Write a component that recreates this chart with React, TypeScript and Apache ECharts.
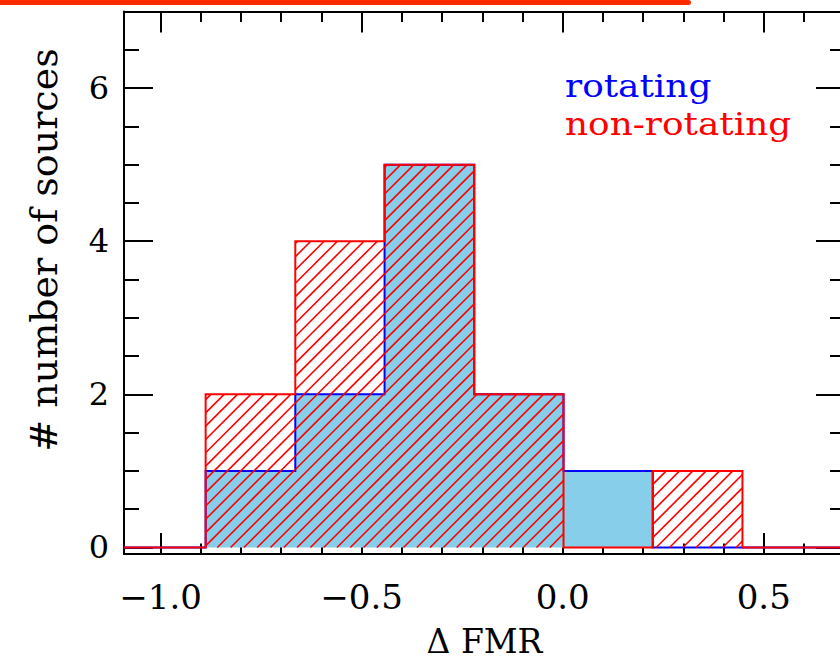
import React, { useEffect, useRef } from "react";
import * as echarts from "echarts";

// ---- data ----
const binEdges = [-0.888, -0.665, -0.443, -0.22, 0.002, 0.224, 0.447];
const rotatingCounts = [1, 2, 5, 2, 1, 0];
const nonRotatingCounts = [2, 4, 5, 2, 0, 1];

const xRange = [-1.091, 0.702];
const yRange = [-0.085, 7];
const xMajorTicks = [-1.0, -0.5, 0.0, 0.5];
const xMinorTicks = [-1.0, -0.9, -0.8, -0.7, -0.6, -0.5, -0.4, -0.3, -0.2, -0.1, 0.0, 0.1, 0.2, 0.3, 0.4, 0.5, 0.6, 0.7];
const yMajorTicks = [0, 2, 4, 6];
const yMinorTicks = [0, 0.5, 1, 1.5, 2, 2.5, 3, 3.5, 4, 4.5, 5, 5.5, 6, 6.5, 7];

const legendLabels = ["rotating", "non-rotating"];
const xTitle = "Δ FMR";
const yTitle = "# number of sources";

const FONT = "DejaVu Serif";
const BLUE = "#0000ff";
const RED = "#ff0000";
const SKY = "#87ceeb";

const fmt = (v: number) => {
  const s = Math.abs(v).toFixed(1);
  return v < -1e-9 ? "\u2212" + s : s;
};

export default function App() {
  const ref = useRef<HTMLDivElement>(null);
  useEffect(() => {
    if (!ref.current) return;
    const chart = echarts.init(ref.current, null, { renderer: "svg" });

    const tickStyle = { color: "#000", width: 2 };
    const lineStyle = { color: "#000", width: 2 };

    const mkX = (position: string, values: number[], len: number, showLine: boolean, labels: boolean) => ({
      type: "value",
      position,
      min: xRange[0],
      max: xRange[1],
      axisLine: { show: showLine, onZero: false, lineStyle },
      axisTick: { show: true, inside: true, length: len, lineStyle: tickStyle, customValues: values },
      axisLabel: labels
        ? { show: true, customValues: values, formatter: fmt, fontFamily: FONT, fontSize: 34, color: "#000", margin: 26 }
        : { show: false },
      splitLine: { show: false },
      name: labels ? xTitle : "",
      nameLocation: "middle",
      nameGap: 71,
      nameTextStyle: { fontFamily: FONT, fontSize: 33, lineHeight: 33, color: "#000" },
    });
    const mkY = (position: string, values: number[], len: number, showLine: boolean, labels: boolean) => ({
      type: "value",
      position,
      min: yRange[0],
      max: yRange[1],
      axisLine: { show: showLine, onZero: false, lineStyle },
      axisTick: { show: true, inside: true, length: len, lineStyle: tickStyle, customValues: values },
      axisLabel: labels
        ? { show: true, customValues: values, formatter: (v: number) => String(Math.round(v)), fontFamily: FONT, fontSize: 32, color: "#000", margin: 15 }
        : { show: false },
      splitLine: { show: false },
    });

    const renderItem = (params: any, api: any) => {
      const P = (x: number, y: number) => api.coord([x, y]);
      const last = binEdges.length - 1;
      const stepLine = (counts: number[]) => {
        const pts: number[][] = [P(xRange[0], 0), P(binEdges[0], 0)];
        counts.forEach((c, i) => {
          pts.push(P(binEdges[i], c));
          pts.push(P(binEdges[i + 1], c));
        });
        pts.push(P(binEdges[last], 0));
        pts.push(P(xRange[1], 0));
        return pts;
      };
      const fillPoly = (counts: number[]) => {
        const pts: number[][] = [P(binEdges[0], 0)];
        counts.forEach((c, i) => {
          pts.push(P(binEdges[i], c));
          pts.push(P(binEdges[i + 1], c));
        });
        pts.push(P(binEdges[last], 0));
        return pts;
      };
      const hatch: any[] = [];
      const s = 13.3;
      const phase = 6.7;
      nonRotatingCounts.forEach((c, i) => {
        if (c <= 0) return;
        const [x0, yT] = P(binEdges[i], c);
        const [x1, yB] = P(binEdges[i + 1], 0);
        const cMin = x0 + yT;
        const cMax = x1 + yB;
        const k0 = Math.ceil((cMin - phase) / s);
        for (let cc = phase + k0 * s; cc <= cMax; cc += s) {
          const lo = Math.max(x0, cc - yB);
          const hi = Math.min(x1, cc - yT);
          if (hi - lo > 0.5) {
            hatch.push({
              type: "line",
              shape: { x1: lo, y1: cc - lo, x2: hi, y2: cc - hi },
              style: { stroke: RED, lineWidth: 1.6 },
            });
          }
        }
      });
      return {
        type: "group",
        children: [
          { type: "polygon", shape: { points: fillPoly(rotatingCounts) }, style: { fill: SKY, stroke: null } },
          { type: "polyline", shape: { points: stepLine(rotatingCounts) }, style: { fill: null, stroke: BLUE, lineWidth: 2 } },
          ...hatch,
          { type: "polyline", shape: { points: stepLine(nonRotatingCounts) }, style: { fill: null, stroke: RED, lineWidth: 2 } },
        ],
      };
    };

    chart.setOption({
      animation: false,
      backgroundColor: "#fff",
      grid: { left: 124, right: 15, top: 11.5, bottom: 112, containLabel: false, outerBoundsMode: "none" },
      xAxis: [
        mkX("bottom", xMajorTicks, 21, true, true),
        mkX("bottom", xMinorTicks, 10.5, false, false),
        mkX("top", xMajorTicks, 21, true, false),
        mkX("top", xMinorTicks, 10.5, false, false),
      ],
      yAxis: [
        mkY("left", yMajorTicks, 29, true, true),
        mkY("left", yMinorTicks, 15, false, false),
        mkY("right", yMajorTicks, 29, true, false),
        mkY("right", yMinorTicks, 15, false, false),
      ],
      series: [
        {
          type: "custom",
          coordinateSystem: "cartesian2d",
          xAxisIndex: 0,
          yAxisIndex: 0,
          silent: true,
          clip: false,
          data: [[0, 0]],
          renderItem,
        },
      ],
      graphic: [
        { type: "rect", left: 0, top: 0, shape: { x: 0, y: 0, width: 691, height: 5, r: [0, 3, 3, 0] }, style: { fill: "#ff2a00" } },
        {
          type: "text",
          x: 44,
          y: 250,
          rotation: Math.PI / 2,
          style: { text: yTitle, fontFamily: FONT, fontSize: 38, fill: "#000", align: "center", verticalAlign: "middle" },
        },
        {
          type: "text",
          x: 565,
          y: 86,
          scaleX: 1.12,
          style: { text: legendLabels[0], fontFamily: FONT, fontSize: 32, fill: BLUE, align: "left", verticalAlign: "middle" },
        },
        {
          type: "text",
          x: 565,
          y: 124,
          scaleX: 1.12,
          style: { text: legendLabels[1], fontFamily: FONT, fontSize: 32, fill: RED, align: "left", verticalAlign: "middle" },
        },
      ],
    });
    return () => chart.dispose();
  }, []);

  return (
    <div style={{ position: "fixed", left: 0, top: 0, width: 840, height: 666, overflow: "hidden", background: "#fff" }}>
      <div ref={ref} style={{ width: 860, height: 666 }} />
    </div>
  );
}
